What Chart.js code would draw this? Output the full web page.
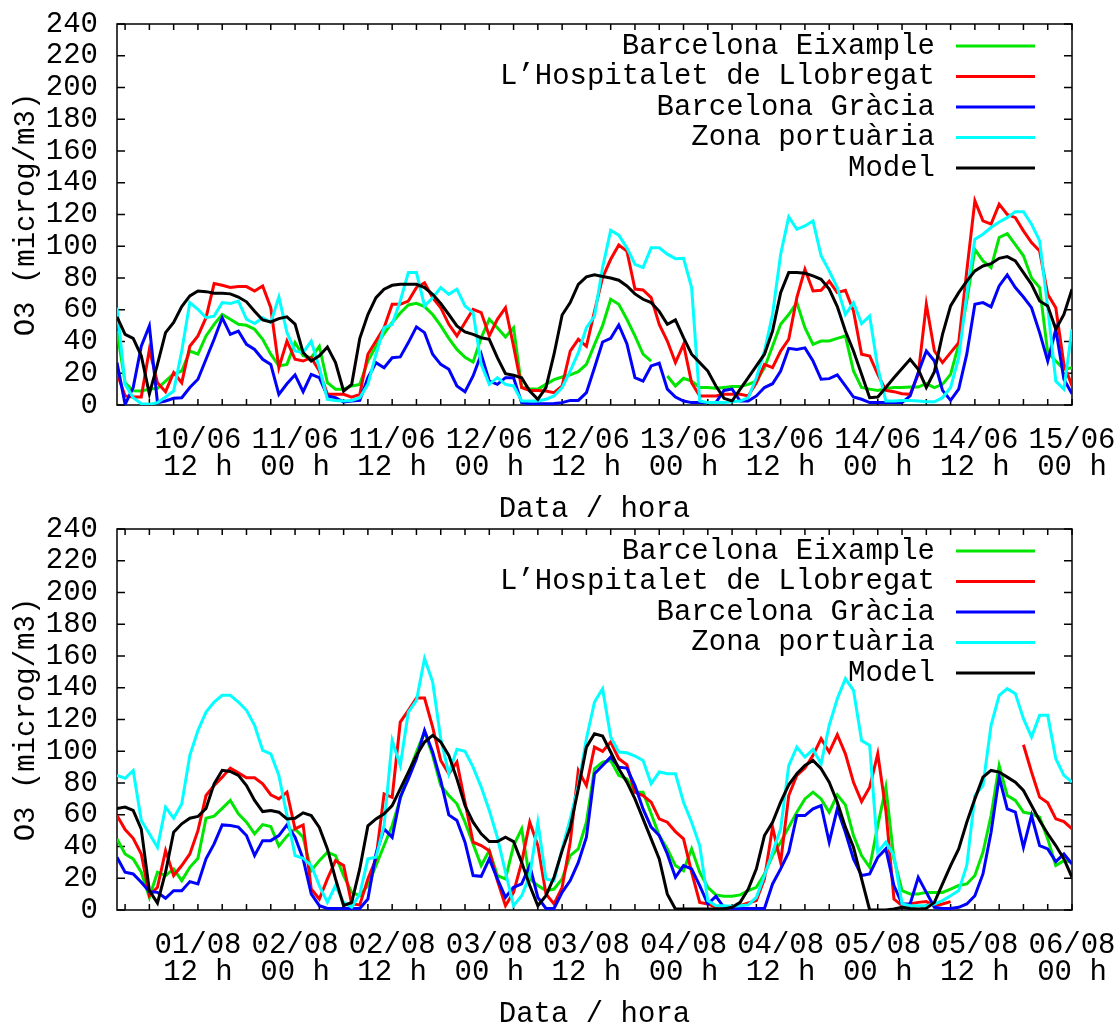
<!DOCTYPE html>
<html>
<head>
<meta charset="utf-8">
<title>O3 - Barcelona</title>
<script src="https://cdn.jsdelivr.net/npm/chart.js@4.4.1/dist/chart.umd.min.js"></script>
<style>
    html, body { margin: 0; padding: 0; background: #ffffff; overflow: hidden; }
    .panel { position: absolute; left: 0; width: 1118px; height: 530px; }
</style>
</head>
<body>
<div class="panel" style="top: 0px;"><canvas id="chartJuny"></canvas></div>
<div class="panel" style="top: 505px;"><canvas id="chartAgost"></canvas></div>
<script>
// hores des de les 00 h del primer dia del periode
const hores = [
    2, 3, 4, 5, 6, 7, 8, 9, 10, 11,
    12, 13, 14, 15, 16, 17, 18, 19, 20, 21,
    22, 23, 24, 25, 26, 27, 28, 29, 30, 31,
    32, 33, 34, 35, 36, 37, 38, 39, 40, 41,
    42, 43, 44, 45, 46, 47, 48, 49, 50, 51,
    52, 53, 54, 55, 56, 57, 58, 59, 60, 61,
    62, 63, 64, 65, 66, 67, 68, 69, 70, 71,
    72, 73, 74, 75, 76, 77, 78, 79, 80, 81,
    82, 83, 84, 85, 86, 87, 88, 89, 90, 91,
    92, 93, 94, 95, 96, 97, 98, 99, 100, 101,
    102, 103, 104, 105, 106, 107, 108, 109, 110, 111,
    112, 113, 114, 115, 116, 117, 118, 119, 120,
];

const marquesHores = [3, 6, 9, 12, 15, 18, 21, 24, 27, 30, 33, 36, 39, 42, 45, 48, 51, 54, 57, 60,
    63, 66, 69, 72, 75, 78, 81, 84, 87, 90, 93, 96, 99, 102, 105, 108, 111, 114, 117, 120];
const horesEtiqueta = [12, 24, 36, 48, 60, 72, 84, 96, 108, 120];

const etiquetesJuny = [
    ["10/06", "12 h"], ["11/06", "00 h"], ["11/06", "12 h"], ["12/06", "00 h"], ["12/06", "12 h"],
    ["13/06", "00 h"], ["13/06", "12 h"], ["14/06", "00 h"], ["14/06", "12 h"], ["15/06", "00 h"],
];
const etiquetesAgost = [
    ["01/08", "12 h"], ["02/08", "00 h"], ["02/08", "12 h"], ["03/08", "00 h"], ["03/08", "12 h"],
    ["04/08", "00 h"], ["04/08", "12 h"], ["05/08", "00 h"], ["05/08", "12 h"], ["06/08", "00 h"],
];

const nomsEstacions = ["Barcelona Eixample", "L\u2019Hospitalet de Llobregat", "Barcelona Gr\u00e0cia", "Zona portu\u00e0ria", "Model"];

// ---- juny ----
const eixampleJuny = [
    46.6, 14, 9, 8.8, 10, 10.5, 15, 19.7, 21.4, 34,
    32, 43.5, 50.8, 57, 54, 50.8, 50.2, 47.7, 41.4, 32,
    24.6, 25.6, 39.3, 31, 29.8, 37, 14, 10, 10, 12,
    13, 27.7, 37, 45, 52, 58, 63, 64, 62, 57,
    50, 42, 35, 30, 27, 42.4, 54, 48.7, 42.9, 48.7,
    11, 10.3, 10, 13, 16, 17.6, 19, 21, 25.6, 38,
    50, 66.6, 63.4, 54, 43.5, 32, 27.7, null, 18.3, 12,
    16.8, 15, 11, 11, 10.5, 11, 11.6, 11.6, 13, 15,
    23.5, 37, 50.8, 57, 64.5, 48.7, 38.2, 40.3, 40.3, 42,
    43.5, 21.4, 11, 10, 9.2, 10.3, 11, 11, 11.3, 11.3,
    13.4, 11, 13, 19.3, 38.2, 65.5, 98, 90.8, 86.6, 105.5,
    108, 101, 94, 80, 74, 33, 27.7, 22.5, 23.5,
];
const hospitaletJuny = [
    20, 5.7, 5, 5, 35, 14, 8.4, 20.4, 14, 37,
    43.5, 55, 76.5, 75.4, 74, 74.6, 74.6, 71.8, 75, 61.3,
    23.5, 40.3, 28.8, 27.7, 29.8, 21.4, 6.7, 6.7, 6.7, 5,
    6.7, 32, 40.3, 48.7, 63.4, 63.4, 65.5, 74, 77, 67.6,
    61.3, 50.8, 43.5, 52, 60.3, 58.2, 43.5, 54, 61.3, 37,
    11, 9.2, 9.2, 8.8, 7.8, 12, 34, 41.4, 37, 59,
    80.3, 91.8, 100.8, 97, 73, 72.5, 67.6, 50.8, 40.3, 26.7,
    38.2, 14, 5.7, 5.7, 5.7, 6.7, 6.7, 6.7, 5.7, 14,
    25.6, 23.5, 34, 41.4, 67.6, 85.5, 71.8, 72.3, 78, 70.8,
    72.3, 59.2, 32, 30.9, 19.3, 9.2, 8.4, 7.1, 6.7, 19.3,
    63.4, 34, 26.7, 33, 39.3, 84.5, 128.6, 116, 114, 126.5,
    120, 118, 109.7, 102.3, 97, 69.7, 61.3, 25.6, 12,
];
const graciaJuny = [
    26.7, 0.4, 11, 37, 49.8, 1.5, 2.5, 4.2, 4.6, 11,
    16.2, 28.8, 41.4, 55, 44.5, 46.6, 38.2, 35, 28.8, 25.6,
    6.7, 13.4, 19, 8.4, 19.3, 17.2, 5.7, 4.6, 1.9, 2.5,
    2.9, 17.2, 26.7, 23.5, 29.8, 30.3, 39.3, 49.2, 45.6, 32,
    25.6, 22.5, 12, 8.4, 18.3, 32, 15, 13, 17.2, 17.2,
    1.5, 0.8, 0.8, 0.8, 1, 1.5, 2.9, 2.9, 7.8, 23.5,
    39.7, 42, 50.4, 38.6, 17.2, 15, 24.6, 26.3, 10, 5,
    2.5, 1.5, 1.5, 1.5, 1.5, 9.2, 10, 2.5, 2.5, 5.7,
    11, 13.4, 21.4, 35.7, 35, 36, 27.7, 16.2, 16.6, 19,
    12, 5, 3.6, 1.5, 1.5, 1.5, 1.5, 1.5, 5.7, 20.4,
    34, 27.7, 9.2, 2.9, 10, 32, 63.4, 64.5, 61.8, 75,
    82, 74, 68, 61.3, 45.6, 27.7, 47.7, 16.2, 7.1,
];
const portJuny = [
    61.3, 13, 4.6, 0.8, 0.4, 1.5, 5, 8.8, 34, 64.5,
    60.3, 55, 56, 64.5, 63.9, 65.5, 54, 51.3, 55, 52,
    68, 45.6, 34, 33, 40.3, 23.5, 3.6, 2.9, 2.5, 2.9,
    4.6, 13, 32, 48.7, 50.8, 65.5, 83.4, 83.4, 62.4, 67.6,
    74, 69.7, 73, 62.4, 58.2, 25.6, 13, 17.2, 13, 12,
    2.5, 2.5, 2.5, 3.6, 5.7, 11, 21.4, 33, 48.7, 56,
    86.6, 110, 107, 99, 88.6, 86.6, 99, 99, 95, 92.2,
    92.4, 74, 2.5, 1.5, 1.5, 1.5, 2, 2.5, 4.6, 17.2,
    34, 57, 95, 118.5, 110.7, 112.8, 116, 94, 84.5, 74,
    57, 64.5, 51.3, 56, 23.5, 2.5, 2.5, 2.9, 2.9, 2.5,
    2, 2, 4.6, 11, 29.8, 69.7, 104.4, 107.6, 111.8, 115.3,
    118, 121.8, 121.8, 113.9, 103.4, 61.3, 15, 10, 47.7,
];
const modelJuny = [
    55.5, 44.5, 42, 31, 7, 25.6, 45.6, 52, 62, 68.7,
    71.8, 71.4, 70.4, 70.4, 70, 68, 65, 59, 53.6, 52.3,
    54.4, 55.5, 51, 33, 27.7, 31, 36.5, 26.7, 8.8, 13,
    42, 57, 67.6, 73, 75.4, 76, 76, 76, 74, 69.7,
    63.9, 57, 49.8, 46, 44.5, 42.4, 41.4, 29.8, 19.7, 18.7,
    17.2, 8.8, 3.6, 11, 32, 56.7, 64.5, 76, 80.7, 82,
    81, 80, 78.6, 75, 70, 66.6, 64.5, 59, 50.8, 53.6,
    42.4, 32, 26.7, 21.4, 12, 4.2, 2.5, 10, 17.2, 24.6,
    32, 46.6, 70.8, 83.4, 83.4, 83, 81.3, 79.2, 73, 62,
    46.6, 34, 19.3, 4.6, 5, 11, 17.2, 23, 28.8, 22.5,
    11, 21, 44.5, 62.4, 70.8, 78, 84.5, 87.6, 89, 92.4,
    93.5, 90.8, 83.4, 76, 65.5, 62.4, 47.7, 57, 73,
];

// ---- agost ----
const eixampleAgost = [
    44.8, 35.3, 32.2, 23.8, 8, 23.8, 21.7, 25.9, 18.5, 26.9,
    32.6, 57.8, 59.1, 64, 69, 60.6, 55.3, 48, 53.8, 52.6,
    40.2, 46.5, 51.1, 45.8, 24.8, 31.1, 36.4, 34.3, 21.7, 11.1,
    9, 15.4, 28, 40.6, 53.2, 70, 85.8, 99.5, 112.1, 97.4,
    78.4, 72.1, 66.9, 55.3, 41.6, 28, 37.4, 21.7, 19.6, 40.6,
    51.1, 19.6, 15.4, 12.2, 13.2, 19.6, 34.3, 38.5, 55.3, 89,
    93.2, 94.2, 84.8, 82.6, 74.2, 74.2, 60.6, 46.9, 38.5, 28,
    24.8, 38.5, 23.8, 14.3, 9.5, 8.6, 8.6, 9.5, 12.2, 14.3,
    22.7, 34.3, 42.7, 52.2, 61.6, 70, 74.2, 70, 61.6, 72.6,
    66.2, 46.9, 34.3, 26.9, 53.2, 77.4, 32.2, 12.2, 10.1, 10.1,
    11.1, 11.1, 11.1, 13.2, 15.4, 16.4, 21.7, 36.4, 59.5, 91,
    72.1, 69, 61.6, 60.6, 58.5, 44.8, 28, 31.1, 30,
];
const hospitaletAgost = [
    59.5, 50.7, 45.2, 35.3, 9, 14.3, 37.4, 21.7, 28, 35.3,
    50, 72.1, 78.4, 83.7, 89.4, 86.4, 83.3, 83.3, 79.5, 72.6,
    70, 74.2, 51.1, 53.6, 13.2, 6.9, 19.6, 31.1, 28, 3.8,
    3.2, 19.6, 32.2, 73.2, 71, 118.4, 125.8, 133.5, 133.5, 115.2,
    94.2, 85.8, 93.2, 67.9, 42.7, 40.6, 37.4, 18.5, 2.7, 11.1,
    30, 55.3, 40.6, 10.1, 3.8, 14.3, 42.7, 87.9, 78.4, 102.6,
    99.9, 105.8, 95.3, 91.5, 74.2, 72.1, 67.9, 57.4, 55.3, 49.4,
    44.8, 23.8, 4.8, 3.8, 1.7, 1.7, 1, 2.7, 4.4, 5.9,
    19.6, 52.2, 30, 72.1, 84.8, 89.4, 97.4, 107.9, 99.5, 110.4,
    98.4, 80.5, 68.3, 77.4, 98.4, 62.7, 6.9, 2.7, 3.8, 4.8,
    5.3, 2.7, 3.8, 5.3, null, null, null, null, null, null,
    null, null, 104.1, 86.9, 71.1, 67.5, 57.4, 55.7, 51.1,
];
const graciaAgost = [
    33.2, 23.8, 22.7, 17.5, 11.6, 11.1, 7.4, 12.2, 12.2, 17.9,
    16.4, 32.2, 41.6, 53.6, 53.2, 52.2, 46.9, 34.3, 43.7, 43.7,
    46.9, 53.6, 45.8, 32.2, 10.1, 2.7, 1, 1, 1, 1,
    1, 6.9, 35.3, 51.1, 45.8, 71.1, 82.6, 95.3, 113.1, 99.5,
    81.6, 59.9, 56.4, 42.7, 21.7, 21.2, 32.2, 19.6, 8, 14.3,
    16.4, 28, 8, 1, 1, 11.1, 18.5, 30, 45.8, 85.8,
    91, 96.3, 90, 89.4, 78.4, 63.7, 52.2, 46.9, 35.3, 20.6,
    28, 25.9, 15.4, 3.8, 8.6, 1.7, 1, 1, 1, 1,
    1, 16.4, 25.9, 36.4, 59.5, 59.5, 63.7, 65.8, 42.7, 63.7,
    49, 32.2, 21.7, 22.7, 33.2, 38.5, 15.4, 3.8, 3.8, 20.6,
    11.1, 1.7, 1, 1, 1.7, 3.8, 9, 22.7, 49, 83.7,
    63.7, 61.6, 39.5, 59.5, 40.6, 38.5, 30.5, 35.3, 29,
];
const portAgost = [
    84.8, 83, 87.9, 56.4, 48, 39.5, 64.8, 57.8, 66.9, 97.4,
    113.1, 124.7, 131, 135.2, 135.2, 131, 125.8, 116.3, 100.5, 98.4,
    84.8, 59.5, 34.3, 32.6, 28, 15.4, 4.8, 15.4, 4.8, 1.7,
    10.1, 32.2, 33.2, 53.2, 106.8, 91, 124.7, 132, 158.4, 143.7,
    107.9, 85.8, 101.2, 99.9, 90, 77.4, 62.7, 45.8, 23.8, 2.7,
    9, 21.7, 55.3, 19.6, 18.5, 38.5, 57.4, 78.4, 107.9, 131,
    139.4, 108.9, 99.5, 99, 97, 94.2, 79.5, 86.9, 85.8, 85.8,
    67.9, 55.3, 40.6, 5.9, 2.7, 2.7, 2.3, 2.7, 3.2, 8,
    21.7, 36.4, 51.1, 91, 102.6, 96.3, 101.2, 92.1, 116.3, 133.1,
    145.7, 138.4, 106.8, 103.7, 36.4, 42.7, 34.3, 3.8, 2.7, 2.7,
    2.7, 3.8, 5.9, 9, 12.2, 28, 72.1, 78.4, 116.3, 135.2,
    139.4, 136.3, 120.5, 108.9, 122.6, 122.6, 95.3, 84.8, 80.5,
];
const modelAgost = [
    64, 64.8, 62.7, 51, 12.2, 4.4, 23.8, 49, 54.3, 57.8,
    58.9, 64, 79.5, 88, 87.3, 84.8, 78.4, 69, 62, 62.7,
    61.6, 57.4, 57.8, 61.2, 59.5, 52, 38.5, 19.6, 2.7, 4.8,
    26, 53, 57.4, 60.6, 65.8, 76.3, 86.9, 97.4, 105.8, 110,
    105.8, 97.4, 82.6, 65.8, 55.3, 48, 43.1, 43.1, 45.8, 43.1,
    30, 15.4, 2.7, 9, 20.6, 37.4, 52, 76.3, 102.6, 111,
    109.6, 99.5, 89, 80.5, 70, 57.4, 44.8, 32.2, 10, 0.6,
    0.6, 0.6, 0.6, 0.6, 0.6, 0.6, 1.7, 4.8, 13.2, 25.9,
    46.9, 55.3, 67.9, 78.9, 85.8, 91, 94.2, 89, 80.5, 67.9,
    52.2, 39.5, 19.6, 0, 0, 0, 0.6, 1.7, 1, 0.6,
    1, 4.8, 16.4, 28, 38.5, 55.3, 70, 83.7, 87.9, 86.9,
    83.7, 80.5, 75.3, 65.8, 56.4, 48, 40.6, 32.2, 20.6,
];

const palette = {
    eixample: "#00e600",
    hospitalet: "#ff0000",
    gracia: "#0000ff",
    port: "#00ffff",
    model: "#000000",
};
const fontFamily = "'Liberation Mono', 'DejaVu Sans Mono', monospace";
const fontSize = 29;

Chart.defaults.font.family = fontFamily;
Chart.defaults.font.size = fontSize;
Chart.defaults.color = "#000000";

// marc del grafic i marques de les escales cap a dins, com gnuplot
const marcGnuplot = {
    id: "marcGnuplot",
    beforeDatasetsDraw(chart) {
        const { ctx, chartArea: a, scales } = chart;
        ctx.save();
        ctx.strokeStyle = "#000000";
        ctx.lineWidth = 1.5;
        ctx.beginPath();
        marquesHores.forEach((h) => {
            const px = scales.x.getPixelForValue(h);
            ctx.moveTo(px, a.bottom);
            ctx.lineTo(px, a.bottom - 6);
            ctx.moveTo(px, a.top);
            ctx.lineTo(px, a.top + 6);
        });
        scales.y.ticks.forEach((t) => {
            const py = scales.y.getPixelForValue(t.value);
            ctx.moveTo(a.left, py);
            ctx.lineTo(a.left + 8, py);
            ctx.moveTo(a.right, py);
            ctx.lineTo(a.right - 8, py);
        });
        ctx.stroke();
        ctx.strokeRect(a.left, a.top, a.right - a.left, a.bottom - a.top);
        ctx.restore();
    },
};

// llegenda dins del grafic, text alineat a la dreta i mostra de linia
const llegendaDreta = {
    id: "llegendaDreta",
    afterDatasetsDraw(chart) {
        const { ctx, chartArea: a } = chart;
        ctx.save();
        ctx.font = fontSize + "px " + fontFamily;
        ctx.textAlign = "right";
        ctx.textBaseline = "middle";
        ctx.fillStyle = "#000000";
        chart.data.datasets.forEach((ds, i) => {
            const yy = a.top + 22 + i * 30.5;
            ctx.fillText(ds.label, a.right - 137, yy);
            ctx.strokeStyle = ds.borderColor;
            ctx.lineWidth = 3;
            ctx.beginPath();
            ctx.moveTo(a.right - 116, yy);
            ctx.lineTo(a.right - 37, yy);
            ctx.stroke();
        });
        ctx.restore();
    },
};

function serie(label, values, color, order) {
    return {
        label: label,
        data: values,
        borderColor: color,
        backgroundColor: color,
        borderWidth: 3,
        pointRadius: 0,
        tension: 0,
        fill: false,
        spanGaps: false,
        order: order,
    };
}

function dibuixa(canvasId, series, etiquetes) {
    const canvas = document.getElementById(canvasId);
    if (!canvas) return;

    new Chart(canvas.getContext("2d"), {
        type: "line",
        data: {
            labels: hores,
            datasets: [
                serie(nomsEstacions[0], series[0], palette.eixample, 5),
                serie(nomsEstacions[1], series[1], palette.hospitalet, 4),
                serie(nomsEstacions[2], series[2], palette.gracia, 3),
                serie(nomsEstacions[3], series[3], palette.port, 2),
                serie(nomsEstacions[4], series[4], palette.model, 1),
            ],
        },
        options: {
            responsive: true,
            maintainAspectRatio: false,
            animation: false,
            layout: {
                padding: { top: 24, right: 46, left: 0, bottom: 0 },
            },
            plugins: {
                legend: { display: false },
                tooltip: { enabled: false },
            },
            scales: {
                x: {
                    type: "linear",
                    min: 2,
                    max: 120,
                    grid: { display: false, drawTicks: false },
                    border: { display: false },
                    afterBuildTicks: (scale) => {
                        scale.ticks = horesEtiqueta.map((h) => ({ value: h }));
                    },
                    afterFit: (scale) => {
                        scale.height = 125;
                        scale.paddingLeft = 0;
                        scale.paddingRight = 0;
                    },
                    ticks: {
                        autoSkip: false,
                        maxRotation: 0,
                        padding: 21.5,
                        font: { size: fontSize, lineHeight: 0.94 },
                        callback: (value) => {
                            const i = horesEtiqueta.indexOf(value);
                            return i >= 0 ? etiquetes[i] : "";
                        },
                    },
                    title: {
                        display: true,
                        text: "Data / hora",
                        font: { size: fontSize },
                        padding: { top: 0, bottom: 3 },
                    },
                },
                y: {
                    min: 0,
                    max: 240,
                    grid: { display: false, drawTicks: false },
                    border: { display: false },
                    afterFit: (scale) => {
                        scale.width = 117;
                        scale.paddingTop = 0;
                        scale.paddingBottom = 0;
                    },
                    ticks: {
                        stepSize: 20,
                        autoSkip: false,
                        padding: 19,
                        font: { size: fontSize },
                    },
                    title: {
                        display: true,
                        text: "O3 (microg/m3)",
                        font: { size: fontSize },
                        padding: { top: 9, bottom: 0 },
                    },
                },
            },
        },
        plugins: [marcGnuplot, llegendaDreta],
    });
}

dibuixa("chartJuny", [eixampleJuny, hospitaletJuny, graciaJuny, portJuny, modelJuny], etiquetesJuny);
dibuixa("chartAgost", [eixampleAgost, hospitaletAgost, graciaAgost, portAgost, modelAgost], etiquetesAgost);
</script>
</body>
</html>
